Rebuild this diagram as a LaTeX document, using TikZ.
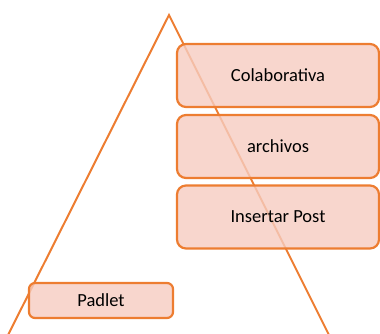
\documentclass[tikz,border=0pt]{standalone}
\usepackage{fontspec}
\setmainfont{Carlito}
\definecolor{orng}{RGB}{237,125,49}
\definecolor{boxfill}{RGB}{246,204,192}
\tikzset{
  listbox/.style={draw=orng, line width=2.2pt, fill=boxfill, fill opacity=0.8, text opacity=1,
    rounded corners=9pt, minimum width=202pt, minimum height=63pt, inner sep=0pt,
    font=\fontsize{18.5}{22}\selectfont, text=black},
  smallbox/.style={listbox, rounded corners=6pt, minimum width=144pt, minimum height=35pt},
  tri/.style={draw=orng, line width=2pt}
}
\begin{document}
\begin{tikzpicture}[x=1pt,y=1pt]
\useasboundingbox (0,0) rectangle (380,-333);
\clip (0,0) rectangle (380,-333);
\coordinate (apex) at (169,-15);
\coordinate (bl) at (3,-345);
\coordinate (br) at (334,-345);
\draw[tri, line join=miter] (bl) -- (apex) -- (br);
\node[listbox] (b1) at (278,-75.5) {Colaborativa};
\node[listbox] (b2) at (278,-146.5) {archivos};
\node[listbox] (b3) at (278,-217) {Insertar Post};
\node[smallbox] (p) at (101,-300.5) {Padlet};
\end{tikzpicture}
\end{document}
